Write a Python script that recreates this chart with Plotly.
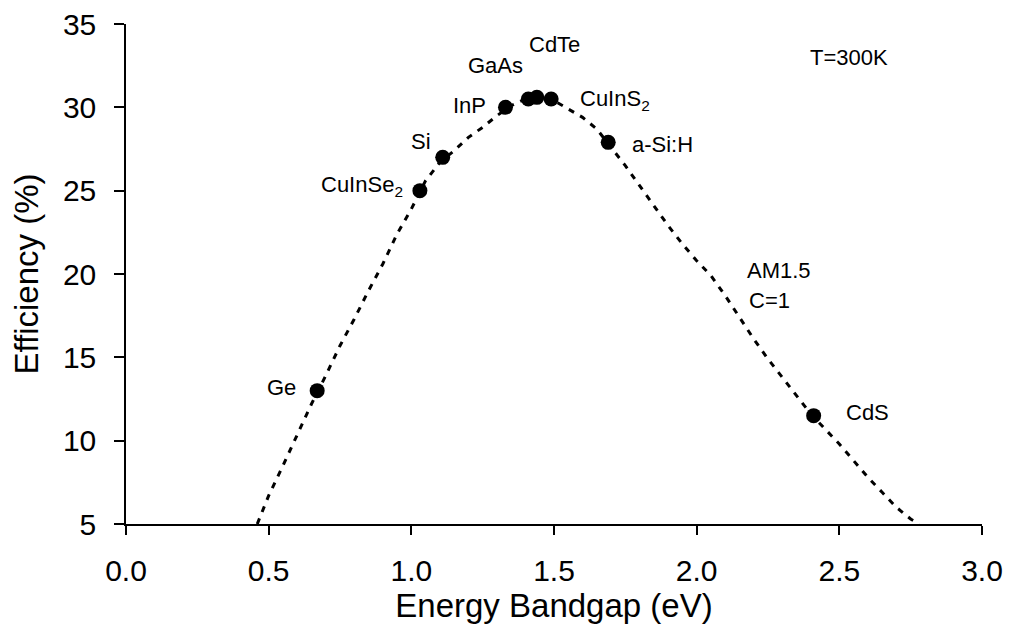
import plotly.graph_objects as go

# Measured solar cell materials
materials = ["Ge", "CuInSe2", "Si", "InP", "GaAs", "CdTe", "CuInS2", "a-Si:H", "CdS"]
bandgap = [0.67, 1.03, 1.11, 1.33, 1.41, 1.44, 1.49, 1.69, 2.41]
efficiency = [13.0, 25.0, 27.0, 30.0, 30.5, 30.6, 30.5, 27.9, 11.5]

# Theoretical efficiency curve (AM1.5, C=1, T=300K)
curve_eg = [0.46, 0.50, 0.55, 0.60, 0.65, 0.70, 0.75, 0.80, 0.85, 0.90, 0.95, 1.00,
            1.05, 1.10, 1.15, 1.20, 1.25, 1.30, 1.35, 1.40, 1.45, 1.50, 1.55, 1.60,
            1.65, 1.70, 1.75, 1.80, 1.85, 1.90, 1.95, 2.00, 2.05, 2.10, 2.15, 2.20,
            2.25, 2.30, 2.35, 2.40, 2.45, 2.50, 2.55, 2.60, 2.65, 2.70, 2.75, 2.78]
curve_eff = [5.0, 6.7, 8.5, 10.4, 12.2, 13.9, 15.7, 17.3, 19.0, 20.6, 22.4, 23.9,
             25.6, 26.7, 27.4, 28.2, 28.8, 29.5, 30.1, 30.5, 30.6, 30.4, 29.9, 29.4,
             28.7, 27.6, 26.5, 25.3, 24.1, 22.9, 21.8, 20.8, 19.9, 18.7, 17.4, 16.1,
             14.9, 13.8, 12.7, 11.6, 10.7, 9.8, 8.8, 7.8, 6.9, 6.0, 5.3, 5.0]

x_ticks = [0.0, 0.5, 1.0, 1.5, 2.0, 2.5, 3.0]
y_ticks = [5, 10, 15, 20, 25, 30, 35]

FONT = "Liberation Sans, Arial, sans-serif"

fig = go.Figure()
fig.add_trace(go.Scatter(
    x=curve_eg, y=curve_eff, mode="lines",
    line=dict(color="black", width=3, dash="6px,7px"),
    hoverinfo="skip", showlegend=False))
fig.add_trace(go.Scatter(
    x=bandgap, y=efficiency, mode="markers", text=materials,
    marker=dict(color="black", size=15),
    showlegend=False))

ann_font = dict(family=FONT, size=22, color="black")
labels = [
    ("Ge", 0.603, 13.19, "right"),
    ("CuInSe<sub>2</sub>", 0.978, 25.3, "right"),
    ("Si", 1.076, 27.95, "right"),
    ("InP", 1.269, 30.14, "right"),
    ("GaAs", 1.398, 32.51, "right"),
    ("CdTe", 1.405, 33.8, "left"),
    ("CuInS<sub>2</sub>", 1.584, 30.45, "left"),
    ("a-Si:H", 1.766, 27.77, "left"),
    ("T=300K", 2.390, 32.98, "left"),
    ("AM1.5", 2.169, 20.24, "left"),
    ("C=1", 2.176, 18.44, "left"),
    ("CdS", 2.516, 11.69, "left"),
]
for txt, ax, ay, anchor in labels:
    fig.add_annotation(x=ax, y=ay, xref="x", yref="y", text=txt, showarrow=False,
                       xanchor=anchor, yanchor="middle", font=ann_font)

# page body has an 8px margin; the figure is offset by it
fig.update_layout(
    width=1005, height=624,
    margin=dict(l=118, r=31, t=16, b=108, autoexpand=False),
    paper_bgcolor="white", plot_bgcolor="white",
    font=dict(family=FONT, color="black"),
)
fig.update_xaxes(
    range=[0, 3], tickvals=x_ticks, ticktext=[f"{v:.1f}" for v in x_ticks],
    showgrid=False, zeroline=False, showline=True, linecolor="black", linewidth=1.5,
    ticks="outside", ticklen=9, tickwidth=1.5, tickcolor="black",
    tickfont=dict(family=FONT, size=30, color="black"), ticklabelstandoff=10,
    ticklabeloverflow="allow", automargin=False,
    title=dict(text="Energy Bandgap (eV)", font=dict(family=FONT, size=33, color="black"), standoff=8),
)
fig.update_yaxes(
    range=[5, 35], tickvals=y_ticks, ticktext=[str(v) for v in y_ticks],
    showgrid=False, zeroline=False, showline=True, linecolor="black", linewidth=1.5,
    ticks="outside", ticklen=10, tickwidth=1.5, tickcolor="black",
    tickfont=dict(family=FONT, size=30, color="black"), ticklabelstandoff=12,
    ticklabeloverflow="allow", automargin=False,
    title=dict(text="Efficiency (%)", font=dict(family=FONT, size=33, color="black"), standoff=14),
)

fig.write_html("out.html")
